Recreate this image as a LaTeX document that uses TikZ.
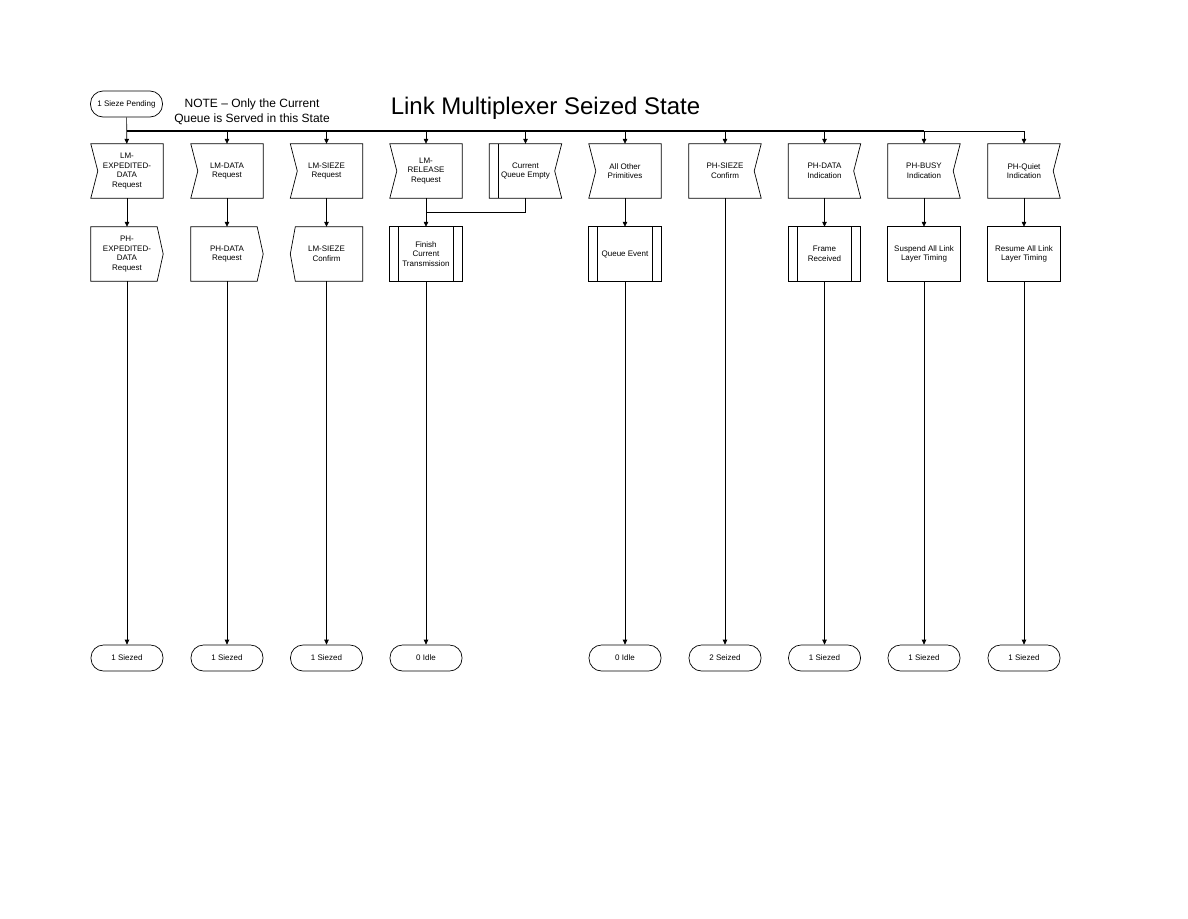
\documentclass[tikz,border=0pt]{standalone}
\usepackage{fontspec}
\setmainfont{Liberation Sans}
\usetikzlibrary{arrows.meta,calc}
\tikzset{
 base/.style={minimum width=72pt, minimum height=54pt, inner sep=0pt, align=center, font=\fontsize{8}{9.7}\selectfont},
 term/.style={draw, rounded corners=12.5pt, minimum width=72pt, minimum height=26pt, inner sep=0pt, font=\fontsize{8}{9.7}\selectfont, line width=0.7pt},
 arr/.style={-{Triangle[length=5pt,width=4.5pt]}, line width=0.7pt},
 outl/.style={line width=0.7pt},
 bus/.style={line width=1.5pt}
}
\newcommand\shpInL[1]{\draw[outl] (#1.north west) -- (#1.north east) -- (#1.south east) -- (#1.south west) -- ([xshift=7pt]#1.west) -- cycle;}
\newcommand\shpInR[1]{\draw[outl] (#1.north west) -- (#1.north east) -- ([xshift=-7pt]#1.east) -- (#1.south east) -- (#1.south west) -- cycle;}
\newcommand\shpOutR[1]{\draw[outl] (#1.north west) -- ([xshift=-6pt]#1.north east) -- (#1.east) -- ([xshift=-6pt]#1.south east) -- (#1.south west) -- cycle;}
\newcommand\shpOutL[1]{\draw[outl] ([xshift=5pt]#1.north west) -- (#1.north east) -- (#1.south east) -- ([xshift=5pt]#1.south west) -- (#1.west) -- cycle;}
\newcommand\shpProc[1]{\draw[outl] (#1.north west) rectangle (#1.south east); \draw[outl] ([xshift=9pt]#1.north west) -- ([xshift=9pt]#1.south west); \draw[outl] ([xshift=-9pt]#1.north east) -- ([xshift=-9pt]#1.south east);}
\begin{document}
\begin{tikzpicture}[x=1pt,y=-1pt]
\useasboundingbox[fill=white] (0,0) rectangle (1188,918);

% header
\node[term] (start) at (126.5,104) {1 Sieze Pending};
\node[font=\fontsize{12}{15.5}\selectfont, align=center, inner sep=0pt] (note) at (252,112) {NOTE -- Only the Current\\Queue is Served in this State};
\node[font=\fontsize{24}{28}\selectfont, anchor=base, inner sep=0pt] (title) at (545.5,114) {Link Multiplexer Seized State};

% inputs
\node[base] (in1) at (127,171) {LM-\\EXPEDITED-\\DATA\\Request};
\node[base] (in2) at (227,171) {LM-DATA\\Request};
\node[base] (in3) at (326.5,171) {LM-SIEZE\\Request};
\node[base] (in4) at (426,171) {LM-\\RELEASE\\Request};
\node[base] (in5) at (525.5,171) {Current\\Queue Empty};
\node[base] (in6) at (625,171) {All Other\\Primitives};
\node[base] (in7) at (725,171) {PH-SIEZE\\Confirm};
\node[base] (in8) at (824.5,171) {PH-DATA\\Indication};
\node[base] (in9) at (924,171) {PH-BUSY\\Indication};
\node[base] (in10) at (1024,171) {PH-Quiet\\Indication};
\shpInL{in1}\shpInL{in2}\shpInL{in3}\shpInL{in4}
\shpInR{in5}
\draw[outl] ([xshift=9pt]in5.north west) -- ([xshift=9pt]in5.south west);
\shpInL{in6}
\shpInR{in7}\shpInR{in8}\shpInR{in9}\shpInR{in10}

% second row
\node[base] (out1) at (127,254) {PH-\\EXPEDITED-\\DATA\\Request};
\node[base] (out2) at (227,254) {PH-DATA\\Request};
\node[base] (out3) at (326.5,254) {LM-SIEZE\\Confirm};
\node[base] (out4) at (426,254) {Finish\\Current\\Transmission};
\node[base] (out6) at (625,254) {Queue Event};
\node[base] (out8) at (824.5,254) {Frame\\Received};
\node[base] (out9) at (924,254) {Suspend All Link\\Layer Timing};
\node[base] (out10) at (1024,254) {Resume All Link\\Layer Timing};
\shpOutR{out1}\shpOutR{out2}\shpOutL{out3}
\shpProc{out4}\shpProc{out6}\shpProc{out8}
\draw[outl] (out9.north west) rectangle (out9.south east);
\draw[outl] (out10.north west) rectangle (out10.south east);

% terminals
\node[term] (t1) at (127,658) {1 Siezed};
\node[term] (t2) at (227,658) {1 Siezed};
\node[term] (t3) at (326.5,658) {1 Siezed};
\node[term] (t4) at (426,658) {0 Idle};
\node[term] (t6) at (625,658) {0 Idle};
\node[term] (t7) at (725,658) {2 Seized};
\node[term] (t8) at (824.5,658) {1 Siezed};
\node[term] (t9) at (924,658) {1 Siezed};
\node[term] (t10) at (1024,658) {1 Siezed};

% bus
\coordinate (busL) at (127,131);
\draw[bus] (start.south |- busL) -- (in9.north |- busL);
\draw[outl] (in9.north |- busL) -- (in10.north |- busL);
\draw[arr] (start) -- (in1);
\foreach \n in {in2,in3,in4,in5,in6,in7,in8,in9,in10}
  \draw[arr] (\n.north |- busL) -- (\n.north);

% input to second row
\draw[arr] (in1) -- (out1);
\draw[arr] (in2) -- (out2);
\draw[arr] (in3) -- (out3);
\draw[arr] (in4) -- (out4);
\coordinate (join) at (426,212);
\draw[outl] (in5.south) |- (join);
\draw[arr] (in6) -- (out6);
\draw[arr] (in7) -- (t7);
\draw[arr] (in8) -- (out8);
\draw[arr] (in9) -- (out9);
\draw[arr] (in10) -- (out10);

% second row to terminals
\draw[arr] (out1) -- (t1);
\draw[arr] (out2) -- (t2);
\draw[arr] (out3) -- (t3);
\draw[arr] (out4) -- (t4);
\draw[arr] (out6) -- (t6);
\draw[arr] (out8) -- (t8);
\draw[arr] (out9) -- (t9);
\draw[arr] (out10) -- (t10);
\end{tikzpicture}
\end{document}
